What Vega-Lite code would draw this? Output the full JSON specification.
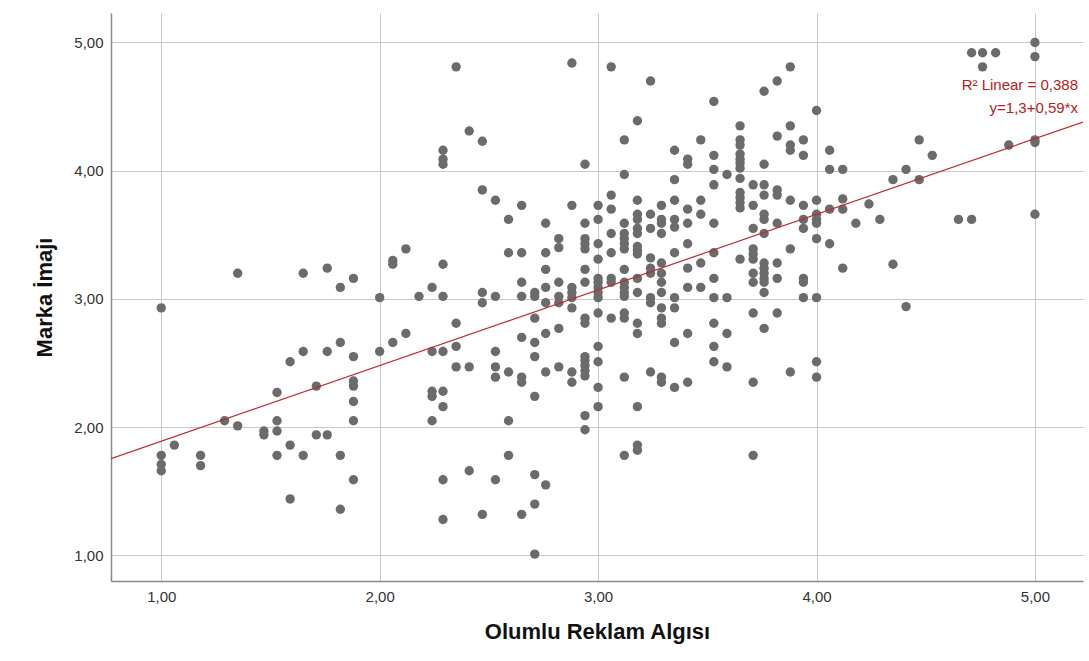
{
"$schema": "https://vega.github.io/schema/vega-lite/v6.json",
"width": 972, "height": 568,
"autosize": {"type": "none"},
"padding": {"left": 111, "top": 13, "right": 6, "bottom": 80},
"background": "white",
"config": {"view": {"stroke": null}, "font": "Liberation Sans"},
"datasets": {
"points": [
{"x":1.00,"y":2.93},{"x":1.00,"y":1.78},{"x":1.00,"y":1.71},{"x":1.00,"y":1.66},
{"x":1.06,"y":1.86},
{"x":1.18,"y":1.78},{"x":1.18,"y":1.70},
{"x":1.29,"y":2.05},
{"x":1.35,"y":2.01},{"x":1.35,"y":3.20},
{"x":1.47,"y":1.97},{"x":1.47,"y":1.94},
{"x":1.53,"y":2.27},{"x":1.53,"y":2.05},{"x":1.53,"y":1.97},{"x":1.53,"y":1.78},
{"x":1.59,"y":1.86},{"x":1.59,"y":1.44},{"x":1.59,"y":2.51},
{"x":1.65,"y":1.78},{"x":1.65,"y":3.20},{"x":1.65,"y":2.59},
{"x":1.71,"y":2.32},{"x":1.71,"y":1.94},
{"x":1.76,"y":1.94},{"x":1.76,"y":3.24},{"x":1.76,"y":2.59},
{"x":1.82,"y":1.78},{"x":1.82,"y":1.36},{"x":1.82,"y":3.09},{"x":1.82,"y":2.66},
{"x":1.88,"y":2.36},{"x":1.88,"y":2.32},{"x":1.88,"y":2.20},{"x":1.88,"y":2.05},{"x":1.88,"y":1.59},{"x":1.88,"y":3.16},{"x":1.88,"y":2.55},
{"x":2.00,"y":3.01},{"x":2.00,"y":2.59},
{"x":2.06,"y":3.30},{"x":2.06,"y":3.27},{"x":2.06,"y":2.66},
{"x":2.12,"y":3.39},{"x":2.12,"y":2.73},
{"x":2.18,"y":3.02},
{"x":2.24,"y":3.09},{"x":2.24,"y":2.59},{"x":2.24,"y":2.28},{"x":2.24,"y":2.24},{"x":2.24,"y":2.05},
{"x":2.29,"y":4.16},{"x":2.29,"y":4.09},{"x":2.29,"y":4.05},{"x":2.29,"y":3.27},{"x":2.29,"y":3.02},{"x":2.29,"y":2.59},{"x":2.29,"y":2.28},{"x":2.29,"y":2.16},{"x":2.29,"y":1.59},{"x":2.29,"y":1.28},
{"x":2.35,"y":4.81},{"x":2.35,"y":2.81},{"x":2.35,"y":2.63},{"x":2.35,"y":2.47},
{"x":2.41,"y":4.31},{"x":2.41,"y":2.47},{"x":2.41,"y":1.66},
{"x":2.47,"y":4.23},{"x":2.47,"y":3.85},{"x":2.47,"y":3.05},{"x":2.47,"y":2.97},{"x":2.47,"y":1.32},
{"x":2.53,"y":3.77},{"x":2.53,"y":3.02},{"x":2.53,"y":2.59},{"x":2.53,"y":2.47},{"x":2.53,"y":2.39},{"x":2.53,"y":1.59},
{"x":2.59,"y":3.62},{"x":2.59,"y":3.36},{"x":2.59,"y":2.43},{"x":2.59,"y":2.05},{"x":2.59,"y":1.78},
{"x":2.65,"y":3.73},{"x":2.65,"y":3.36},{"x":2.65,"y":3.13},{"x":2.65,"y":3.02},{"x":2.65,"y":2.70},{"x":2.65,"y":2.39},{"x":2.65,"y":2.35},{"x":2.65,"y":1.32},
{"x":2.71,"y":3.05},{"x":2.71,"y":3.02},{"x":2.71,"y":2.85},{"x":2.71,"y":2.66},{"x":2.71,"y":2.55},{"x":2.71,"y":2.24},{"x":2.71,"y":1.63},{"x":2.71,"y":1.40},{"x":2.71,"y":1.01},
{"x":2.76,"y":3.59},{"x":2.76,"y":3.36},{"x":2.76,"y":3.23},{"x":2.76,"y":3.09},{"x":2.76,"y":2.97},{"x":2.76,"y":2.73},{"x":2.76,"y":2.43},{"x":2.76,"y":1.55},
{"x":2.82,"y":3.47},{"x":2.82,"y":3.40},{"x":2.82,"y":3.13},{"x":2.82,"y":3.02},{"x":2.82,"y":2.97},{"x":2.82,"y":2.77},{"x":2.82,"y":2.47},
{"x":2.88,"y":4.84},{"x":2.88,"y":3.73},{"x":2.88,"y":3.09},{"x":2.88,"y":3.05},{"x":2.88,"y":3.01},{"x":2.88,"y":2.93},{"x":2.88,"y":2.43},{"x":2.88,"y":2.35},
{"x":2.94,"y":4.05},{"x":2.94,"y":3.59},{"x":2.94,"y":3.47},{"x":2.94,"y":3.43},{"x":2.94,"y":3.39},{"x":2.94,"y":3.23},{"x":2.94,"y":3.13},{"x":2.94,"y":2.85},{"x":2.94,"y":2.81},{"x":2.94,"y":2.55},{"x":2.94,"y":2.52},{"x":2.94,"y":2.48},{"x":2.94,"y":2.44},{"x":2.94,"y":2.40},{"x":2.94,"y":2.09},{"x":2.94,"y":1.98},
{"x":3.00,"y":3.73},{"x":3.00,"y":3.62},{"x":3.00,"y":3.43},{"x":3.00,"y":3.31},{"x":3.00,"y":3.16},{"x":3.00,"y":3.13},{"x":3.00,"y":3.09},{"x":3.00,"y":3.05},{"x":3.00,"y":3.01},{"x":3.00,"y":2.89},{"x":3.00,"y":2.63},{"x":3.00,"y":2.51},{"x":3.00,"y":2.31},{"x":3.00,"y":2.16},
{"x":3.06,"y":4.81},{"x":3.06,"y":3.81},{"x":3.06,"y":3.70},{"x":3.06,"y":3.51},{"x":3.06,"y":3.36},{"x":3.06,"y":3.16},{"x":3.06,"y":3.13},{"x":3.06,"y":2.85},
{"x":3.12,"y":4.24},{"x":3.12,"y":3.97},{"x":3.12,"y":3.59},{"x":3.12,"y":3.51},{"x":3.12,"y":3.47},{"x":3.12,"y":3.43},{"x":3.12,"y":3.39},{"x":3.12,"y":3.23},{"x":3.12,"y":3.13},{"x":3.12,"y":3.09},{"x":3.12,"y":3.05},{"x":3.12,"y":3.02},{"x":3.12,"y":2.89},{"x":3.12,"y":2.85},{"x":3.12,"y":2.39},{"x":3.12,"y":1.78},
{"x":3.18,"y":4.39},{"x":3.18,"y":3.77},{"x":3.18,"y":3.66},{"x":3.18,"y":3.62},{"x":3.18,"y":3.55},{"x":3.18,"y":3.51},{"x":3.18,"y":3.41},{"x":3.18,"y":3.38},{"x":3.18,"y":3.35},{"x":3.18,"y":3.16},{"x":3.18,"y":3.05},{"x":3.18,"y":2.81},{"x":3.18,"y":2.73},{"x":3.18,"y":2.16},{"x":3.18,"y":1.86},{"x":3.18,"y":1.82},
{"x":3.24,"y":4.70},{"x":3.24,"y":3.66},{"x":3.24,"y":3.55},{"x":3.24,"y":3.32},{"x":3.24,"y":3.24},{"x":3.24,"y":3.20},{"x":3.24,"y":3.01},{"x":3.24,"y":2.97},{"x":3.24,"y":2.43},
{"x":3.29,"y":3.73},{"x":3.29,"y":3.62},{"x":3.29,"y":3.59},{"x":3.29,"y":3.51},{"x":3.29,"y":3.28},{"x":3.29,"y":3.20},{"x":3.29,"y":3.13},{"x":3.29,"y":3.05},{"x":3.29,"y":2.93},{"x":3.29,"y":2.85},{"x":3.29,"y":2.81},{"x":3.29,"y":2.39},{"x":3.29,"y":2.35},
{"x":3.35,"y":4.16},{"x":3.35,"y":3.93},{"x":3.35,"y":3.77},{"x":3.35,"y":3.62},{"x":3.35,"y":3.56},{"x":3.35,"y":3.36},{"x":3.35,"y":3.01},{"x":3.35,"y":2.93},{"x":3.35,"y":2.66},{"x":3.35,"y":2.31},
{"x":3.41,"y":4.09},{"x":3.41,"y":4.05},{"x":3.41,"y":3.70},{"x":3.41,"y":3.59},{"x":3.41,"y":3.43},{"x":3.41,"y":3.24},{"x":3.41,"y":3.09},{"x":3.41,"y":2.73},{"x":3.41,"y":2.35},
{"x":3.47,"y":4.24},{"x":3.47,"y":3.77},{"x":3.47,"y":3.66},{"x":3.47,"y":3.28},{"x":3.47,"y":3.09},
{"x":3.53,"y":4.54},{"x":3.53,"y":4.12},{"x":3.53,"y":4.01},{"x":3.53,"y":3.89},{"x":3.53,"y":3.59},{"x":3.53,"y":3.36},{"x":3.53,"y":3.16},{"x":3.53,"y":3.01},{"x":3.53,"y":2.81},{"x":3.53,"y":2.63},{"x":3.53,"y":2.51},
{"x":3.59,"y":3.97},{"x":3.59,"y":3.01},{"x":3.59,"y":2.73},{"x":3.59,"y":2.47},
{"x":3.65,"y":4.35},{"x":3.65,"y":4.24},{"x":3.65,"y":4.20},{"x":3.65,"y":4.13},{"x":3.65,"y":4.09},{"x":3.65,"y":4.06},{"x":3.65,"y":4.02},{"x":3.65,"y":3.94},{"x":3.65,"y":3.83},{"x":3.65,"y":3.79},{"x":3.65,"y":3.75},{"x":3.65,"y":3.71},{"x":3.65,"y":3.31},
{"x":3.71,"y":3.89},{"x":3.71,"y":3.73},{"x":3.71,"y":3.55},{"x":3.71,"y":3.39},{"x":3.71,"y":3.35},{"x":3.71,"y":3.31},{"x":3.71,"y":3.20},{"x":3.71,"y":3.13},{"x":3.71,"y":2.89},{"x":3.71,"y":2.35},{"x":3.71,"y":1.78},
{"x":3.76,"y":4.62},{"x":3.76,"y":4.05},{"x":3.76,"y":3.89},{"x":3.76,"y":3.81},{"x":3.76,"y":3.66},{"x":3.76,"y":3.62},{"x":3.76,"y":3.51},{"x":3.76,"y":3.28},{"x":3.76,"y":3.24},{"x":3.76,"y":3.20},{"x":3.76,"y":3.16},{"x":3.76,"y":3.13},{"x":3.76,"y":3.05},{"x":3.76,"y":2.77},
{"x":3.82,"y":4.70},{"x":3.82,"y":4.27},{"x":3.82,"y":3.85},{"x":3.82,"y":3.81},{"x":3.82,"y":3.59},{"x":3.82,"y":3.28},{"x":3.82,"y":3.16},{"x":3.82,"y":2.89},
{"x":3.88,"y":4.81},{"x":3.88,"y":4.35},{"x":3.88,"y":4.20},{"x":3.88,"y":4.16},{"x":3.88,"y":3.77},{"x":3.88,"y":3.39},{"x":3.88,"y":2.43},
{"x":3.94,"y":4.24},{"x":3.94,"y":4.12},{"x":3.94,"y":3.73},{"x":3.94,"y":3.62},{"x":3.94,"y":3.55},{"x":3.94,"y":3.16},{"x":3.94,"y":3.13},{"x":3.94,"y":3.01},
{"x":4.00,"y":4.47},{"x":4.00,"y":3.77},{"x":4.00,"y":3.66},{"x":4.00,"y":3.62},{"x":4.00,"y":3.59},{"x":4.00,"y":3.47},{"x":4.00,"y":3.01},{"x":4.00,"y":2.51},{"x":4.00,"y":2.39},
{"x":4.06,"y":4.16},{"x":4.06,"y":4.01},{"x":4.06,"y":3.70},{"x":4.06,"y":3.43},
{"x":4.12,"y":4.01},{"x":4.12,"y":3.78},{"x":4.12,"y":3.70},{"x":4.12,"y":3.24},
{"x":4.18,"y":3.59},
{"x":4.24,"y":3.74},
{"x":4.29,"y":3.62},
{"x":4.35,"y":3.93},{"x":4.35,"y":3.27},
{"x":4.41,"y":4.01},{"x":4.41,"y":2.94},
{"x":4.47,"y":4.24},{"x":4.47,"y":3.93},
{"x":4.53,"y":4.12},
{"x":4.65,"y":3.62},
{"x":4.71,"y":4.92},{"x":4.71,"y":3.62},
{"x":4.76,"y":4.92},{"x":4.76,"y":4.81},
{"x":4.82,"y":4.92},
{"x":4.88,"y":4.20},
{"x":5.00,"y":5.00},{"x":5.00,"y":4.89},{"x":5.00,"y":4.24},{"x":5.00,"y":4.22},{"x":5.00,"y":3.66}
],
"fit": [{"x":0.77,"y":1.7543},{"x":5.22,"y":4.3798}],
"notes": [{"x":5.197,"y":4.67,"t":"R² Linear = 0,388"},{"x":5.197,"y":4.49,"t":"y=1,3+0,59*x"}]
},
"encoding": {
"x": {"field":"x","type":"quantitative","scale":{"domain":[0.77,5.22],"nice":false,"zero":false},
 "axis":{"values":[1,2,3,4,5],"labelExpr":"replace(format(datum.value,'.2f'),'.',',')","grid":true,"gridColor":"#c8c8c8","gridWidth":1,"domainColor":"#888888","domainWidth":1.5,"ticks":false,"labelFontSize":15,"labelColor":"#333333","labelPadding":8,"title":"Olumlu Reklam Algısı","titleFontSize":22,"titleFontWeight":"bold","titleColor":"#111111","titlePadding":17}},
"y": {"field":"y","type":"quantitative","scale":{"domain":[0.8,5.23],"nice":false,"zero":false},
 "axis":{"values":[1,2,3,4,5],"labelExpr":"replace(format(datum.value,'.2f'),'.',',')","grid":true,"gridColor":"#c8c8c8","gridWidth":1,"domainColor":"#888888","domainWidth":1.5,"ticks":false,"labelFontSize":15,"labelColor":"#333333","labelPadding":8,"title":"Marka İmajı","titleFontSize":22,"titleFontWeight":"bold","titleColor":"#111111","titlePadding":17}}
},
"layer": [
{"data":{"name":"points"},"mark":{"type":"circle","size":88,"color":"#6b6b6b","opacity":1}},
{"data":{"name":"fit"},"mark":{"type":"line","color":"#c0282d","strokeWidth":1.2,"clip":true}},
{"data":{"name":"notes"},"mark":{"type":"text","align":"right","baseline":"middle","color":"#b22222","fontSize":15},"encoding":{"text":{"field":"t"}}}
]
}
